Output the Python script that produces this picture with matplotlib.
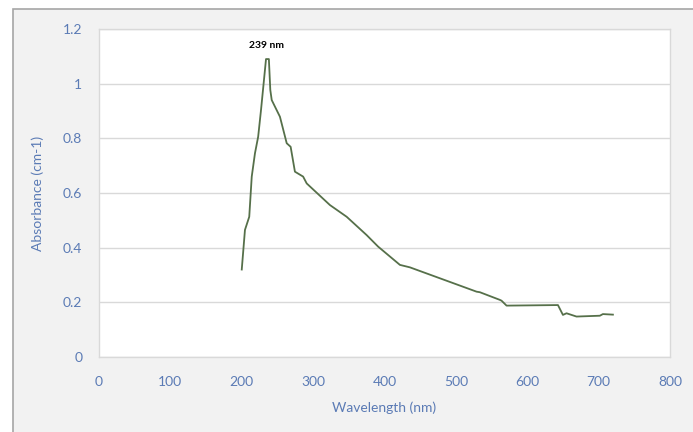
import matplotlib
matplotlib.use("Agg")
import matplotlib.pyplot as plt
from matplotlib.patches import Rectangle

wavelength = [200, 204.5, 210.5, 214, 218.5, 223, 227, 231, 234, 238, 240, 242,
              253.5, 263, 268.5, 274.5, 286, 291, 309.5, 323.5, 347, 375, 391,
              421.6, 435.6, 477.6, 529, 533.6, 561.6, 564, 571, 643, 650, 655,
              669, 701.7, 706, 720]
absorbance = [0.32, 0.465, 0.513, 0.66, 0.745, 0.806, 0.904, 1.01, 1.09, 1.09, 0.977, 0.94,
              0.879, 0.782, 0.769, 0.678, 0.66, 0.635, 0.59, 0.556, 0.513, 0.446, 0.404,
              0.337, 0.328, 0.288, 0.239, 0.237, 0.209, 0.206, 0.188, 0.19, 0.154, 0.16,
              0.148, 0.151, 0.157, 0.155]
peak_label = "239 nm"
peak_pos = (234, 1.14)
x_ticks = [0, 100, 200, 300, 400, 500, 600, 700, 800]
y_ticks = [0, 0.2, 0.4, 0.6, 0.8, 1, 1.2]
y_tick_labels = ["0", "0.2", "0.4", "0.6", "0.8", "1", "1.2"]

plt.rcParams['font.family'] = ['Lato', 'DejaVu Sans']
W, H = 693, 432
fig = plt.figure(figsize=(W/100, H/100), dpi=100, facecolor='white')
bg = Rectangle((13/W, -0.05), 1.1, 1 - 9/H + 0.05, transform=fig.transFigure,
               facecolor='#f2f2f2', edgecolor='#a6a6a6', linewidth=1.2,
               clip_on=False, zorder=-10)
fig.patches.append(bg)
ax = fig.add_axes([99/W, 1 - 357/H, (670-99)/W, (357-29)/H])
ax.set_zorder(1)
ax.set_facecolor('white')
ax.plot(wavelength, absorbance, color='#56704a', linewidth=1.3, zorder=3)
ax.set_xlim(0, 800)
ax.set_ylim(0, 1.2)
ax.set_xticks(x_ticks)
ax.set_yticks(y_ticks)
ax.set_yticklabels(y_tick_labels)
ax.grid(axis='y', color='#d9d9d9', linewidth=1)
ax.set_axisbelow(True)
for s in ax.spines.values():
    s.set_color('#d9d9d9')
    s.set_linewidth(1)
tc = '#5b7bb5'
ax.tick_params(length=0, labelsize=10, labelcolor=tc)
ax.tick_params(axis='x', pad=14)
ax.tick_params(axis='y', pad=12)
ax.set_xlabel("Wavelength (nm)", fontsize=10, color=tc)
ax.set_ylabel("Absorbance (cm-1)", fontsize=10, color=tc)
ax.xaxis.set_label_coords(0.5, -(401-357)/(357-29), transform=ax.transAxes)
ax.yaxis.set_label_coords(-(99-44)/(670-99), 0.5)
ax.text(peak_pos[0], peak_pos[1], peak_label, fontsize=7.5, fontweight='bold',
        color='black', ha='center', va='center')
fig.savefig("out.png", dpi=100, facecolor=fig.get_facecolor())
